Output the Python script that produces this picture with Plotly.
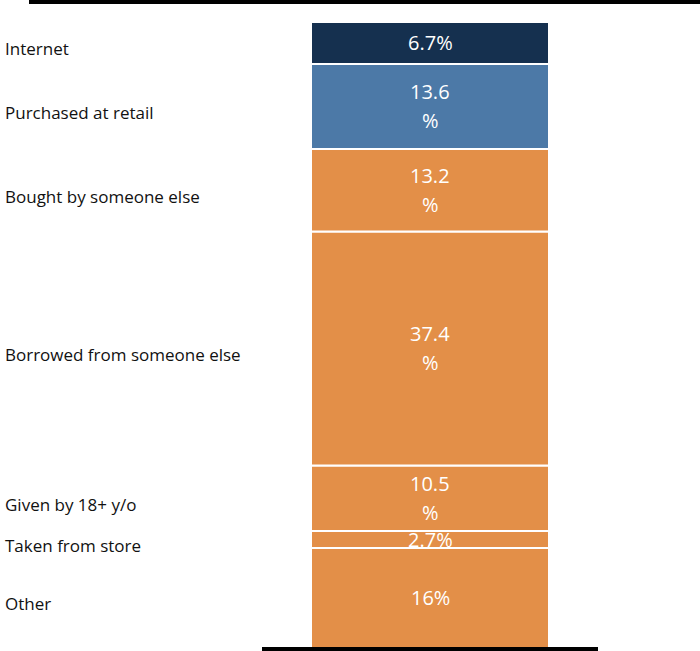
import plotly.graph_objects as go

# Data (top to bottom as displayed)
categories = ["Internet", "Purchased at retail", "Bought by someone else",
              "Borrowed from someone else", "Given by 18+ y/o", "Taken from store", "Other"]
values = [6.7, 13.6, 13.2, 37.4, 10.5, 2.7, 16.0]
bar_texts = ["6.7%", "13.6<br>%", "13.2<br>%", "37.4<br>%", "10.5<br>%", "2.7%", "16%"]
colors = ["#15304F", "#4C79A7", "#E38F48", "#E38F48", "#E38F48", "#E38F48", "#E38F48"]

W, H = 700, 651
fig = go.Figure()

# stack from bottom: reverse order
order = list(range(len(categories)))[::-1]
cum = 0.0
annotations = []
for i in order:
    v = values[i]
    fig.add_trace(go.Bar(
        x=[0], y=[v], base=[cum], width=[1],
        marker=dict(color=colors[i], line=dict(color="white", width=2)),
        showlegend=False, hoverinfo="skip", name=categories[i],
    ))
    mid = cum + v / 2
    lines = bar_texts[i].split("<br>")
    n = len(lines)
    for k, ln in enumerate(lines):
        annotations.append(dict(
            x=0, y=mid, xref="x", yref="y", text=ln, showarrow=False,
            xanchor="center", yanchor="middle",
            yshift=(n - 1) * 14.5 - k * 29,
            font=dict(family="Open Sans", size=20, color="white"),
        ))
    annotations.append(dict(
        x=0, y=mid, xref="paper", yref="y", text=categories[i], showarrow=False,
        xanchor="left", yanchor="middle", xshift=3, yshift=-6,
        font=dict(family="Open Sans", size=17, color="#111111"),
    ))
    cum += v

total = sum(values)
ml, mr, mt, mb = 0, 0, 22, 3
pw = W - ml - mr
bar_left, bar_right = 311, 549
unit = bar_right - bar_left
x0 = -0.5 - (bar_left - ml) / unit
x1 = x0 + pw / unit
ph = H - mt - mb

def py(pix):
    return (H - mb - pix) / ph

fig.update_layout(
    width=W, height=H,
    margin=dict(l=ml, r=mr, t=mt, b=mb),
    paper_bgcolor="white", plot_bgcolor="white",
    barmode="overlay",
    xaxis=dict(range=[x0, x1], visible=False, fixedrange=True),
    yaxis=dict(range=[0, total], visible=False, fixedrange=True),
    annotations=annotations,
    shapes=[
        dict(type="line", xref="paper", yref="paper", x0=29 / W, x1=1.0,
             y0=py(2), y1=py(2), line=dict(color="black", width=4)),
        dict(type="line", xref="paper", yref="paper", x0=262 / W, x1=598 / W,
             y0=py(649), y1=py(649), line=dict(color="black", width=4)),
    ],
)

fig.write_html("out.html")
